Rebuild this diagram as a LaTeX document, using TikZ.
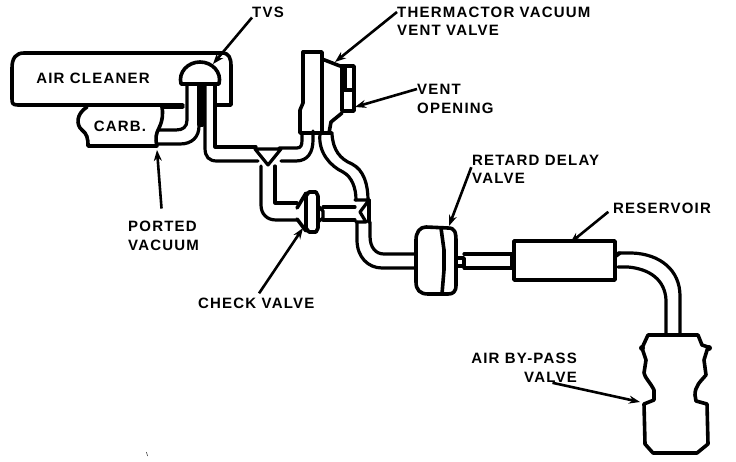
\documentclass[tikz,border=0pt]{standalone}
\usepackage{fontspec}
\setmainfont[LetterSpace=8]{Liberation Sans}
\usetikzlibrary{arrows.meta,positioning}

\begin{document}
\begin{tikzpicture}[
    x=1pt,
    y=-1pt,
    >=Stealth,
    paroi/.style={
        line width=3.6pt,
        line join=round,
        line cap=round
    },
    tuyau/.style={
        line width=3.2pt,
        line join=round,
        line cap=round
    },
    fleche/.style={
        ->,
        line width=2.6pt,
        >={Stealth[length=11pt,width=8pt]}
    },
    etiquette/.style={
        inner sep=0pt,
        font=\fontsize{15}{17}\selectfont\bfseries
    }
]

\useasboundingbox (0,0) rectangle (736,462);

\node[etiquette] (cleaner) at (93,78) {AIR CLEANER};
\node[etiquette] (carb) at (120,126) {CARB.};
\node[etiquette] (tvs) at (268,12) {TVS};
\node[etiquette, anchor=west] (thermactor) at (397,12) {THERMACTOR VACUUM};
\node[etiquette, anchor=west] (thermactorb) at (397,30) {VENT VALVE};
\node[etiquette, anchor=west] (vent) at (417,89) {VENT};
\node[etiquette, anchor=west] (opening) at (417,108) {OPENING};
\node[etiquette, anchor=west] (retard) at (472,160) {RETARD DELAY};
\node[etiquette, anchor=west] (retardb) at (472,178) {VALVE};
\node[etiquette, anchor=west] (reservoir) at (613,208) {RESERVOIR};
\node[etiquette, anchor=west] (ported) at (128,226) {PORTED};
\node[etiquette, anchor=west] (vacuum) at (128,245) {VACUUM};
\node[etiquette, anchor=west] (check) at (198,303) {CHECK VALVE};
\node[etiquette, anchor=east] (bypass) at (577,358) {AIR BY-PASS};
\node[etiquette, anchor=east] (bypassb) at (577,377) {VALVE};

\coordinate (ptvs) at (213,64);
\coordinate (ptherm) at (335,62);
\coordinate (pvent) at (355,107);
\coordinate (pported) at (157,150);
\coordinate (pcheck) at (303,228);
\coordinate (pretard) at (449,226);
\coordinate (pres) at (570,243);
\coordinate (pbypass) at (640,402);

\draw[paroi] (183,105) -- (18,105) .. controls (12,105) and (12,103) .. (12,98) -- (12,68) .. controls (12,58) and (16,53) .. (24,53) -- (222,53) .. controls (229,53) and (231,58) .. (231,66) -- (231,105) -- (215,105);
\draw[paroi, fill=white] (181,84) .. controls (178,72) and (188,62) .. (200,62) .. controls (212,62) and (222,72) .. (219,84) -- cycle;

\draw[paroi] (87,107) .. controls (76,114) and (76,125) .. (82,130) .. controls (87,134) and (88,138) .. (88,146) -- (157,146) .. controls (155,138) and (156,134) .. (159,128) .. controls (163,120) and (163,112) .. (162,107) -- (183,107);

\draw[tuyau] (187,85) -- (187,120) .. controls (187,127) and (183,130) .. (176,130) -- (158,130);
\draw[tuyau] (199,85) -- (199,126) .. controls (199,137) and (192,144) .. (180,144) -- (158,144);
\draw[tuyau] (205,85) -- (205,148) .. controls (205,157) and (209,161) .. (217,161) -- (258,161);
\draw[tuyau] (215,85) -- (215,147) -- (256,147);
\draw[paroi] (199,85) -- (203,85) -- (203,125) -- (199,125) -- cycle;

\draw[tuyau] (255,149) -- (281,149) -- (268,165) -- cycle;
\draw[tuyau] (281,161) -- (296,161) .. controls (308,161) and (313,152) .. (313,140) -- (313,131);
\draw[tuyau] (279,148) -- (297,148) .. controls (301,148) and (302,145) .. (302,140) -- (302,133);
\draw[tuyau] (261,166) -- (261,205) .. controls (261,214) and (267,220) .. (276,220) -- (297,220);
\draw[tuyau] (275,166) -- (275,203) -- (297,203);

\draw[paroi] (297,208) -- (306,193) (297,219) -- (306,231);
\draw[paroi] (309,192) -- (316,192) -- (318,196) -- (318,228) -- (316,232) -- (309,232) -- (306,228) -- (306,196) -- cycle;
\draw[tuyau] (318,206) -- (323,211) -- (323,218) -- (318,222);
\draw[tuyau] (323,207) -- (355,207);
\draw[tuyau] (323,220) -- (355,220);

\draw[paroi] (303,52) -- (322,52) -- (322,133);
\draw[paroi] (303,52) -- (303,103) -- (300,110) -- (300,133) -- (332,133);
\draw[paroi] (322,59) -- (340,66) -- (354,66) -- (354,111) -- (342,111) -- (342,66);
\draw[paroi] (342,113) -- (331,122) -- (329,133);
\fill (340,65) rectangle (347,90);
\draw[tuyau] (342,90) -- (354,90);

\draw[tuyau] (320,134) .. controls (318,152) and (330,166) .. (343,172) .. controls (352,177) and (356,188) .. (356,200);
\draw[tuyau] (332,134) .. controls (333,150) and (340,159) .. (352,164) .. controls (364,170) and (368,185) .. (368,200);
\draw[tuyau] (355,200) -- (369,200) -- (360,212) -- (366,222) -- (356,222);
\draw[tuyau] (369,200) -- (369,222);
\draw[tuyau] (357,222) -- (357,240) .. controls (357,257) and (368,268) .. (382,268) -- (416,268);
\draw[tuyau] (370,222) -- (370,236) .. controls (370,248) and (376,254) .. (384,254) -- (416,254);

\draw[paroi] (426,227) -- (448,228) .. controls (455,228) and (456,232) .. (456,242) -- (456,285) .. controls (456,292) and (453,294) .. (448,294) -- (428,294) .. controls (420,294) and (416,290) .. (416,282) -- (416,240) .. controls (416,232) and (420,227) .. (426,227);
\draw[paroi] (441,228) -- (444,250) -- (444,270) -- (442,294);
\draw[paroi] (457,258) -- (464,258) -- (464,266) -- (458,266);
\draw[tuyau] (464,254) -- (512,254);
\draw[tuyau] (464,268) -- (512,268);
\draw[paroi] (512,256) -- (512,266);

\draw[paroi] (514,241) -- (615,241) -- (615,280) -- (514,280) -- cycle;
\draw[paroi] (616,256) -- (620,253);
\draw[tuyau] (618,253) -- (632,253) .. controls (660,254) and (680,270) .. (680,296) -- (680,333);
\draw[tuyau] (618,267) -- (628,267) .. controls (650,269) and (665,280) .. (666,300) -- (666,333);

\draw[paroi] (648,335) -- (698,335) -- (702,345) -- (708,347) -- (704,360) -- (706,375) .. controls (700,382) and (695,386) .. (695,395) -- (696,401) -- (707,404) -- (708,444) -- (697,453) -- (653,453) -- (645,444) -- (644,404) -- (654,400) -- (654,390) .. controls (650,382) and (645,378) .. (644,373) -- (646,360) -- (642,348) -- cycle;
\fill (642,348) circle (3pt);
\fill (709,348) circle (3pt);

\draw (146.5,452) -- (147.5,456);

\draw[fleche] (tvs.south west) -- (ptvs);
\draw[fleche] (thermactor.west) -- (ptherm);
\draw[fleche] (vent.west) -- (pvent);
\draw[fleche, shorten <=12pt] (ported.north) -- (pported);
\draw[fleche, shorten <=5pt] (check.north) -- (pcheck);
\draw[fleche, shorten <=2pt] (retard.south west) -- (pretard);
\draw[fleche, shorten <=6pt] (reservoir.west) -- (pres);
\draw[fleche, shorten <=2pt] (bypassb.south) -- (pbypass);

\end{tikzpicture}
\end{document}
